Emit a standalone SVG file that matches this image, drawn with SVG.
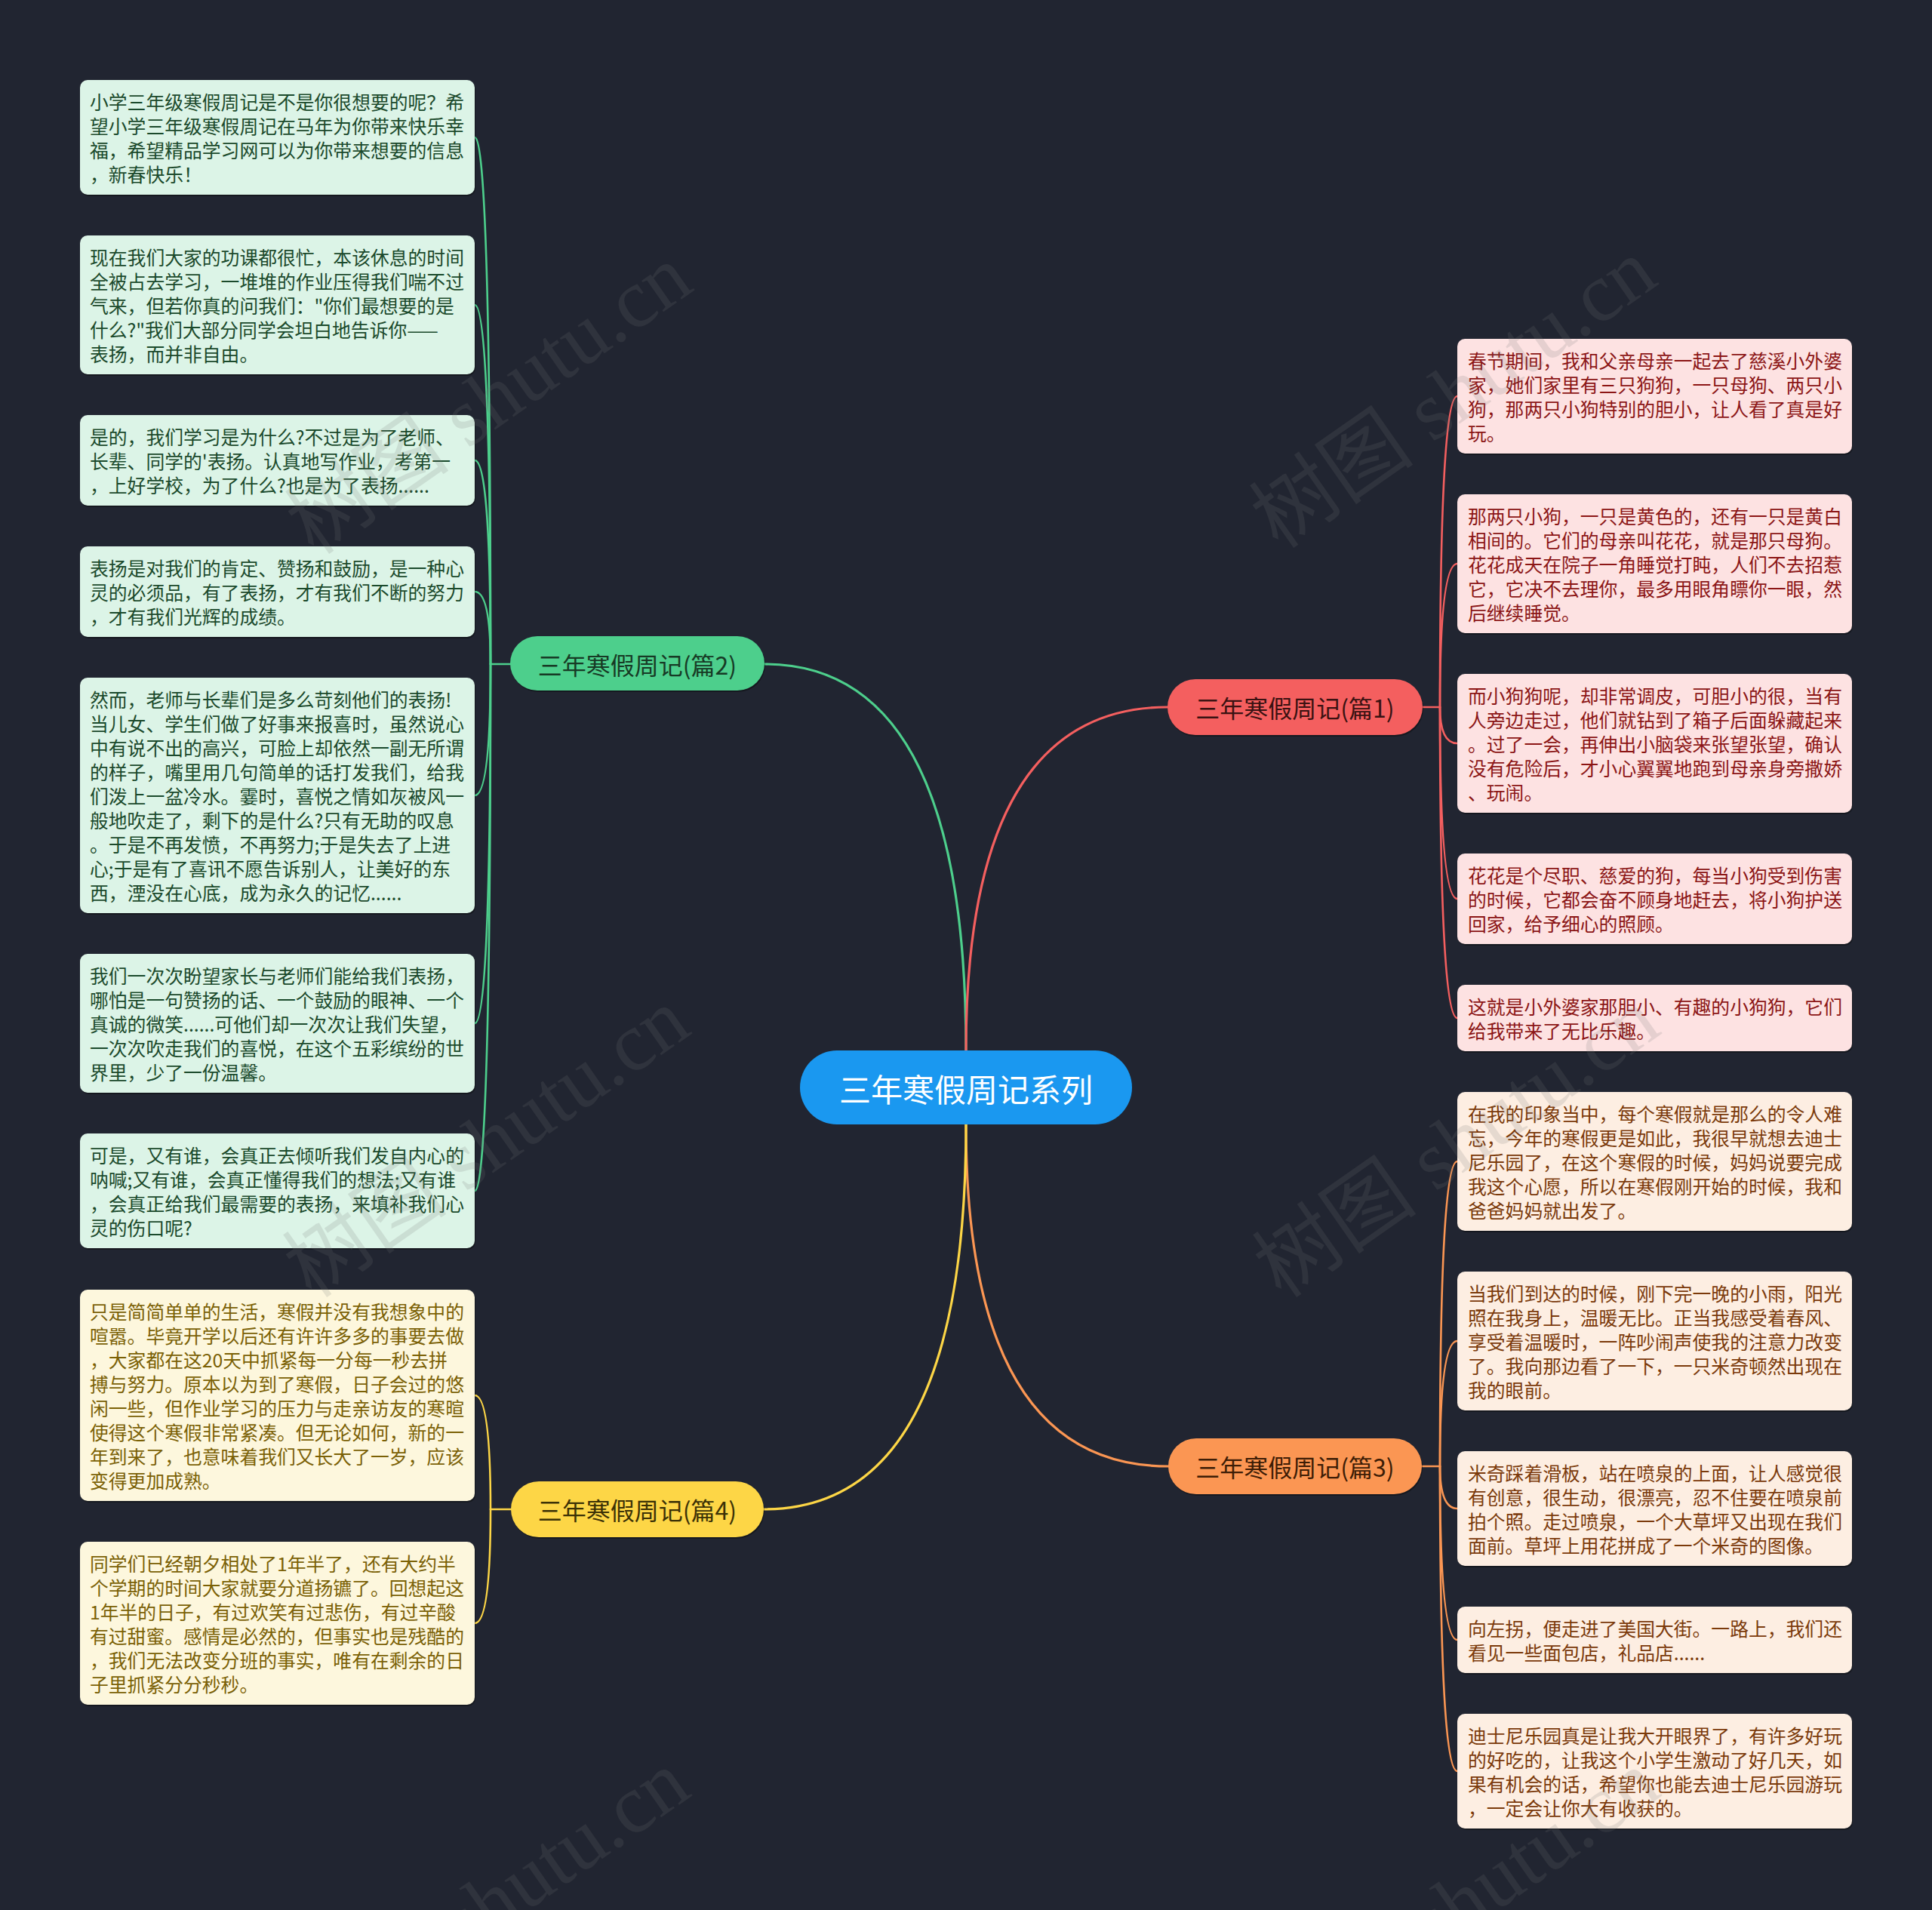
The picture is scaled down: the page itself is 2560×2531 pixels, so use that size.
<svg xmlns="http://www.w3.org/2000/svg" width="2560" height="2531" viewBox="0 0 2560 2531">
<defs>
<style>
.bg{fill:#212531}
.sh{fill:#000;opacity:0.35}
.leaf text{font-family:"Noto Sans CJK SC","Noto Sans",sans-serif;font-size:24.8px}
.g .box{fill:#dcf4e7}.g text{fill:#1b4a2c}
.r .box{fill:#fde2e2}.r text{fill:#8c1616}
.o .box{fill:#fdeee2}.o text{fill:#7b3a0b}
.y .box{fill:#fdf7dd}.y text{fill:#7b6106}
.pill text{font-family:"Noto Sans CJK SC","Noto Sans",sans-serif;font-size:32px;text-anchor:middle;dominant-baseline:central}
.root text{font-family:"Noto Sans CJK SC","Noto Sans",sans-serif;font-size:42px;text-anchor:middle;dominant-baseline:central;fill:#ffffff}
.conn path{fill:none;stroke-linecap:round}
.cg{stroke:#4dcf8c}.cr{stroke:#f45f5f}.co{stroke:#fb9653}.cy{stroke:#fdd646}
.main{stroke-width:3.2}.sub{stroke-width:2.6}
.wm{font-family:"Liberation Serif","Noto Sans CJK SC",serif;font-size:110px;fill:#777777;opacity:0.17;text-anchor:middle;dominant-baseline:central}
</style>
</defs>
<rect class="bg" x="0" y="0" width="2560" height="2531"/>

<g id="connectors" class="conn">
  <path class="cg main" d="M1280 1392 Q1280 880 1013 880"/>
  <path class="cr main" d="M1280 1392 Q1280 937 1547 937"/>
  <path class="co main" d="M1280 1490 Q1280 1943 1548 1943"/>
  <path class="cy main" d="M1280 1490 Q1280 2000 1012 2000"/>
  <path class="cg sub" d="M676 880 L650 880"/>
  <path class="cg sub" d="M650 880 Q650 182 629 182"/>
  <path class="cg sub" d="M650 880 Q650 404 629 404"/>
  <path class="cg sub" d="M650 880 Q650 610 629 610"/>
  <path class="cg sub" d="M650 880 Q650 784 629 784"/>
  <path class="cg sub" d="M650 880 Q650 1054 629 1054"/>
  <path class="cg sub" d="M650 880 Q650 1356 629 1356"/>
  <path class="cg sub" d="M650 880 Q650 1578 629 1578"/>
  <path class="cy sub" d="M677 2000 L650 2000"/>
  <path class="cy sub" d="M650 2000 Q650 1849 629 1849"/>
  <path class="cy sub" d="M650 2000 Q650 2151 629 2151"/>
  <path class="cr sub" d="M1885 937 L1908 937"/>
  <path class="cr sub" d="M1908 937 Q1908 525 1931 525"/>
  <path class="cr sub" d="M1908 937 Q1908 747 1931 747"/>
  <path class="cr sub" d="M1908 937 Q1908 985 1931 985"/>
  <path class="cr sub" d="M1908 937 Q1908 1191 1931 1191"/>
  <path class="cr sub" d="M1908 937 Q1908 1349 1931 1349"/>
  <path class="co sub" d="M1884 1943 L1908 1943"/>
  <path class="co sub" d="M1908 1943 Q1908 1539 1931 1539"/>
  <path class="co sub" d="M1908 1943 Q1908 1777 1931 1777"/>
  <path class="co sub" d="M1908 1943 Q1908 1999 1931 1999"/>
  <path class="co sub" d="M1908 1943 Q1908 2173 1931 2173"/>
  <path class="co sub" d="M1908 1943 Q1908 2347 1931 2347"/>
</g>

<g id="root" class="root">
  <rect x="1060" y="1392" width="440" height="98" rx="49" fill="#1a98f0"/>
  <text x="1280" y="1441">三年寒假周记系列</text>
</g>

<g id="branch1" class="pill">
  <rect class="sh" x="1548" y="902" width="338" height="74" rx="37"/>
  <rect x="1547" y="900" width="338" height="74" rx="37" fill="#f45f5f"/>
  <text x="1716" y="937" fill="#3a1212">三年寒假周记(篇1)</text>
</g>
<g id="branch2" class="pill">
  <rect class="sh" x="677" y="845" width="337" height="72" rx="36"/>
  <rect x="676" y="843" width="337" height="72" rx="36" fill="#4dcf8c"/>
  <text x="844.5" y="880" fill="#173a25">三年寒假周记(篇2)</text>
</g>
<g id="branch3" class="pill">
  <rect class="sh" x="1549" y="1908" width="336" height="74" rx="37"/>
  <rect x="1548" y="1906" width="336" height="74" rx="37" fill="#fb9653"/>
  <text x="1716" y="1943" fill="#3d1d06">三年寒假周记(篇3)</text>
</g>
<g id="branch4" class="pill">
  <rect class="sh" x="678" y="1965" width="335" height="74" rx="37"/>
  <rect x="677" y="1963" width="335" height="74" rx="37" fill="#fdd646"/>
  <text x="844.5" y="2000" fill="#3b3106">三年寒假周记(篇4)</text>
</g>

<g id="leaf-g1" class="leaf g">
  <rect class="sh" x="107" y="108" width="523" height="152" rx="10"/>
  <rect class="box" x="106" y="106" width="523" height="152" rx="10"/>
  <text x="119" y="145"><tspan x="119">小学三年级寒假周记是不是你很想要的呢？希</tspan><tspan x="119" dy="32">望小学三年级寒假周记在马年为你带来快乐幸</tspan><tspan x="119" dy="32">福，希望精品学习网可以为你带来想要的信息</tspan><tspan x="119" dy="32">，新春快乐！</tspan></text>
</g>
<g id="leaf-g2" class="leaf g">
  <rect class="sh" x="107" y="314" width="523" height="184" rx="10"/>
  <rect class="box" x="106" y="312" width="523" height="184" rx="10"/>
  <text x="119" y="351"><tspan x="119">现在我们大家的功课都很忙，本该休息的时间</tspan><tspan x="119" dy="32">全被占去学习，一堆堆的作业压得我们喘不过</tspan><tspan x="119" dy="32">气来，但若你真的问我们："你们最想要的是</tspan><tspan x="119" dy="32">什么?"我们大部分同学会坦白地告诉你——</tspan><tspan x="119" dy="32">表扬，而并非自由。</tspan></text>
</g>
<g id="leaf-g3" class="leaf g">
  <rect class="sh" x="107" y="552" width="523" height="120" rx="10"/>
  <rect class="box" x="106" y="550" width="523" height="120" rx="10"/>
  <text x="119" y="589"><tspan x="119">是的，我们学习是为什么?不过是为了老师、</tspan><tspan x="119" dy="32">长辈、同学的'表扬。认真地写作业，考第一</tspan><tspan x="119" dy="32">，上好学校，为了什么?也是为了表扬......</tspan></text>
</g>
<g id="leaf-g4" class="leaf g">
  <rect class="sh" x="107" y="726" width="523" height="120" rx="10"/>
  <rect class="box" x="106" y="724" width="523" height="120" rx="10"/>
  <text x="119" y="763"><tspan x="119">表扬是对我们的肯定、赞扬和鼓励，是一种心</tspan><tspan x="119" dy="32">灵的必须品，有了表扬，才有我们不断的努力</tspan><tspan x="119" dy="32">，才有我们光辉的成绩。</tspan></text>
</g>
<g id="leaf-g5" class="leaf g">
  <rect class="sh" x="107" y="900" width="523" height="312" rx="10"/>
  <rect class="box" x="106" y="898" width="523" height="312" rx="10"/>
  <text x="119" y="937"><tspan x="119">然而，老师与长辈们是多么苛刻他们的表扬!</tspan><tspan x="119" dy="32">当儿女、学生们做了好事来报喜时，虽然说心</tspan><tspan x="119" dy="32">中有说不出的高兴，可脸上却依然一副无所谓</tspan><tspan x="119" dy="32">的样子，嘴里用几句简单的话打发我们，给我</tspan><tspan x="119" dy="32">们泼上一盆冷水。霎时，喜悦之情如灰被风一</tspan><tspan x="119" dy="32">般地吹走了，剩下的是什么?只有无助的叹息</tspan><tspan x="119" dy="32">。于是不再发愤，不再努力;于是失去了上进</tspan><tspan x="119" dy="32">心;于是有了喜讯不愿告诉别人，让美好的东</tspan><tspan x="119" dy="32">西，湮没在心底，成为永久的记忆......</tspan></text>
</g>
<g id="leaf-g6" class="leaf g">
  <rect class="sh" x="107" y="1266" width="523" height="184" rx="10"/>
  <rect class="box" x="106" y="1264" width="523" height="184" rx="10"/>
  <text x="119" y="1303"><tspan x="119">我们一次次盼望家长与老师们能给我们表扬，</tspan><tspan x="119" dy="32">哪怕是一句赞扬的话、一个鼓励的眼神、一个</tspan><tspan x="119" dy="32">真诚的微笑......可他们却一次次让我们失望，</tspan><tspan x="119" dy="32">一次次吹走我们的喜悦，在这个五彩缤纷的世</tspan><tspan x="119" dy="32">界里，少了一份温馨。</tspan></text>
</g>
<g id="leaf-g7" class="leaf g">
  <rect class="sh" x="107" y="1504" width="523" height="152" rx="10"/>
  <rect class="box" x="106" y="1502" width="523" height="152" rx="10"/>
  <text x="119" y="1541"><tspan x="119">可是，又有谁，会真正去倾听我们发自内心的</tspan><tspan x="119" dy="32">呐喊;又有谁，会真正懂得我们的想法;又有谁</tspan><tspan x="119" dy="32">，会真正给我们最需要的表扬，来填补我们心</tspan><tspan x="119" dy="32">灵的伤口呢?</tspan></text>
</g>

<g id="leaf-y1" class="leaf y">
  <rect class="sh" x="107" y="1711" width="523" height="280" rx="10"/>
  <rect class="box" x="106" y="1709" width="523" height="280" rx="10"/>
  <text x="119" y="1748"><tspan x="119">只是简简单单的生活，寒假并没有我想象中的</tspan><tspan x="119" dy="32">喧嚣。毕竟开学以后还有许许多多的事要去做</tspan><tspan x="119" dy="32">，大家都在这20天中抓紧每一分每一秒去拼</tspan><tspan x="119" dy="32">搏与努力。原本以为到了寒假，日子会过的悠</tspan><tspan x="119" dy="32">闲一些，但作业学习的压力与走亲访友的寒暄</tspan><tspan x="119" dy="32">使得这个寒假非常紧凑。但无论如何，新的一</tspan><tspan x="119" dy="32">年到来了，也意味着我们又长大了一岁，应该</tspan><tspan x="119" dy="32">变得更加成熟。</tspan></text>
</g>
<g id="leaf-y2" class="leaf y">
  <rect class="sh" x="107" y="2045" width="523" height="216" rx="10"/>
  <rect class="box" x="106" y="2043" width="523" height="216" rx="10"/>
  <text x="119" y="2082"><tspan x="119">同学们已经朝夕相处了1年半了，还有大约半</tspan><tspan x="119" dy="32">个学期的时间大家就要分道扬镳了。回想起这</tspan><tspan x="119" dy="32">1年半的日子，有过欢笑有过悲伤，有过辛酸</tspan><tspan x="119" dy="32">有过甜蜜。感情是必然的，但事实也是残酷的</tspan><tspan x="119" dy="32">，我们无法改变分班的事实，唯有在剩余的日</tspan><tspan x="119" dy="32">子里抓紧分分秒秒。</tspan></text>
</g>

<g id="leaf-r1" class="leaf r">
  <rect class="sh" x="1932" y="451" width="523" height="152" rx="10"/>
  <rect class="box" x="1931" y="449" width="523" height="152" rx="10"/>
  <text x="1945" y="488"><tspan x="1945">春节期间，我和父亲母亲一起去了慈溪小外婆</tspan><tspan x="1945" dy="32">家，她们家里有三只狗狗，一只母狗、两只小</tspan><tspan x="1945" dy="32">狗，那两只小狗特别的胆小，让人看了真是好</tspan><tspan x="1945" dy="32">玩。</tspan></text>
</g>
<g id="leaf-r2" class="leaf r">
  <rect class="sh" x="1932" y="657" width="523" height="184" rx="10"/>
  <rect class="box" x="1931" y="655" width="523" height="184" rx="10"/>
  <text x="1945" y="694"><tspan x="1945">那两只小狗，一只是黄色的，还有一只是黄白</tspan><tspan x="1945" dy="32">相间的。它们的母亲叫花花，就是那只母狗。</tspan><tspan x="1945" dy="32">花花成天在院子一角睡觉打盹，人们不去招惹</tspan><tspan x="1945" dy="32">它，它决不去理你，最多用眼角瞟你一眼，然</tspan><tspan x="1945" dy="32">后继续睡觉。</tspan></text>
</g>
<g id="leaf-r3" class="leaf r">
  <rect class="sh" x="1932" y="895" width="523" height="184" rx="10"/>
  <rect class="box" x="1931" y="893" width="523" height="184" rx="10"/>
  <text x="1945" y="932"><tspan x="1945">而小狗狗呢，却非常调皮，可胆小的很，当有</tspan><tspan x="1945" dy="32">人旁边走过，他们就钻到了箱子后面躲藏起来</tspan><tspan x="1945" dy="32">。过了一会，再伸出小脑袋来张望张望，确认</tspan><tspan x="1945" dy="32">没有危险后，才小心翼翼地跑到母亲身旁撒娇</tspan><tspan x="1945" dy="32">、玩闹。</tspan></text>
</g>
<g id="leaf-r4" class="leaf r">
  <rect class="sh" x="1932" y="1133" width="523" height="120" rx="10"/>
  <rect class="box" x="1931" y="1131" width="523" height="120" rx="10"/>
  <text x="1945" y="1170"><tspan x="1945">花花是个尽职、慈爱的狗，每当小狗受到伤害</tspan><tspan x="1945" dy="32">的时候，它都会奋不顾身地赶去，将小狗护送</tspan><tspan x="1945" dy="32">回家，给予细心的照顾。</tspan></text>
</g>
<g id="leaf-r5" class="leaf r">
  <rect class="sh" x="1932" y="1307" width="523" height="88" rx="10"/>
  <rect class="box" x="1931" y="1305" width="523" height="88" rx="10"/>
  <text x="1945" y="1344"><tspan x="1945">这就是小外婆家那胆小、有趣的小狗狗，它们</tspan><tspan x="1945" dy="32">给我带来了无比乐趣。</tspan></text>
</g>

<g id="leaf-o1" class="leaf o">
  <rect class="sh" x="1932" y="1449" width="523" height="184" rx="10"/>
  <rect class="box" x="1931" y="1447" width="523" height="184" rx="10"/>
  <text x="1945" y="1486"><tspan x="1945">在我的印象当中，每个寒假就是那么的令人难</tspan><tspan x="1945" dy="32">忘，今年的寒假更是如此，我很早就想去迪士</tspan><tspan x="1945" dy="32">尼乐园了，在这个寒假的时候，妈妈说要完成</tspan><tspan x="1945" dy="32">我这个心愿，所以在寒假刚开始的时候，我和</tspan><tspan x="1945" dy="32">爸爸妈妈就出发了。</tspan></text>
</g>
<g id="leaf-o2" class="leaf o">
  <rect class="sh" x="1932" y="1687" width="523" height="184" rx="10"/>
  <rect class="box" x="1931" y="1685" width="523" height="184" rx="10"/>
  <text x="1945" y="1724"><tspan x="1945">当我们到达的时候，刚下完一晚的小雨，阳光</tspan><tspan x="1945" dy="32">照在我身上，温暖无比。正当我感受着春风、</tspan><tspan x="1945" dy="32">享受着温暖时，一阵吵闹声使我的注意力改变</tspan><tspan x="1945" dy="32">了。我向那边看了一下，一只米奇顿然出现在</tspan><tspan x="1945" dy="32">我的眼前。</tspan></text>
</g>
<g id="leaf-o3" class="leaf o">
  <rect class="sh" x="1932" y="1925" width="523" height="152" rx="10"/>
  <rect class="box" x="1931" y="1923" width="523" height="152" rx="10"/>
  <text x="1945" y="1962"><tspan x="1945">米奇踩着滑板，站在喷泉的上面，让人感觉很</tspan><tspan x="1945" dy="32">有创意，很生动，很漂亮，忍不住要在喷泉前</tspan><tspan x="1945" dy="32">拍个照。走过喷泉，一个大草坪又出现在我们</tspan><tspan x="1945" dy="32">面前。草坪上用花拼成了一个米奇的图像。</tspan></text>
</g>
<g id="leaf-o4" class="leaf o">
  <rect class="sh" x="1932" y="2131" width="523" height="88" rx="10"/>
  <rect class="box" x="1931" y="2129" width="523" height="88" rx="10"/>
  <text x="1945" y="2168"><tspan x="1945">向左拐，便走进了美国大街。一路上，我们还</tspan><tspan x="1945" dy="32">看见一些面包店，礼品店......</tspan></text>
</g>
<g id="leaf-o5" class="leaf o">
  <rect class="sh" x="1932" y="2273" width="523" height="152" rx="10"/>
  <rect class="box" x="1931" y="2271" width="523" height="152" rx="10"/>
  <text x="1945" y="2310"><tspan x="1945">迪士尼乐园真是让我大开眼界了，有许多好玩</tspan><tspan x="1945" dy="32">的好吃的，让我这个小学生激动了好几天，如</tspan><tspan x="1945" dy="32">果有机会的话，希望你也能去迪士尼乐园游玩</tspan><tspan x="1945" dy="32">，一定会让你大有收获的。</tspan></text>
</g>

<g id="watermarks">
  <text class="wm" transform="translate(648 530) rotate(-35)">树图 shutu.cn</text>
  <text class="wm" transform="translate(1926 522) rotate(-35)">树图 shutu.cn</text>
  <text class="wm" transform="translate(645 1515) rotate(-35)">树图 shutu.cn</text>
  <text class="wm" transform="translate(1930 1515) rotate(-35)">树图 shutu.cn</text>
  <text class="wm" transform="translate(645 2525) rotate(-35)">树图 shutu.cn</text>
  <text class="wm" transform="translate(1930 2525) rotate(-35)">树图 shutu.cn</text>
</g>
</svg>
